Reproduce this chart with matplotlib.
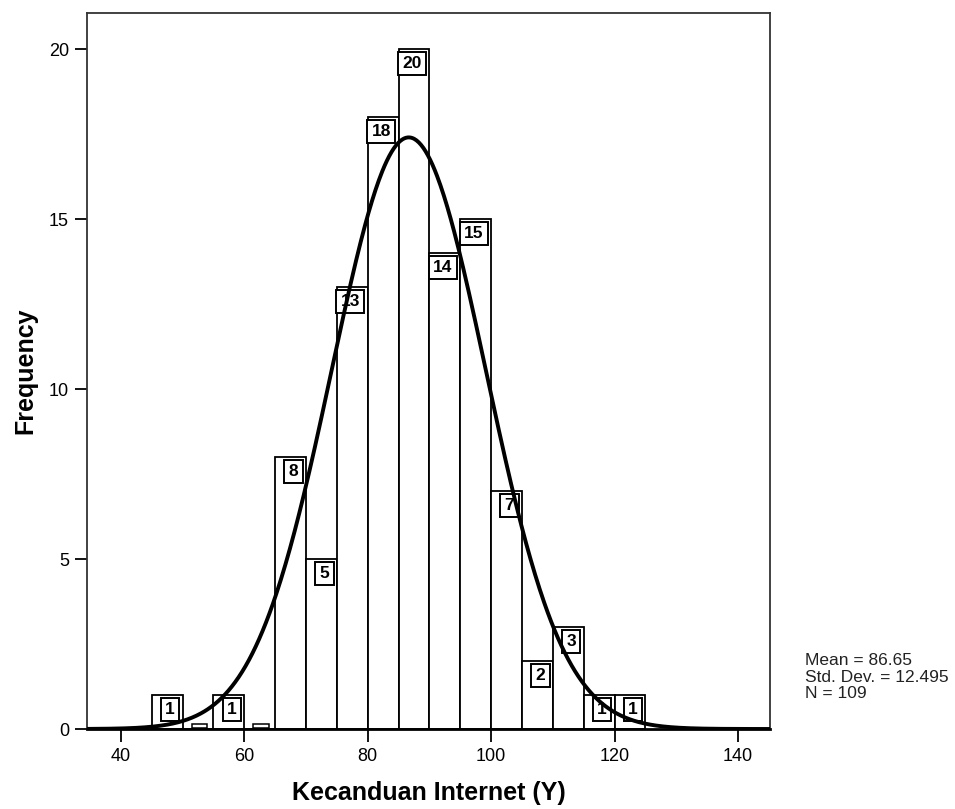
import numpy as np
import matplotlib
matplotlib.use("Agg")
import matplotlib.pyplot as plt

plt.rcParams['font.family'] = ['Liberation Sans', 'DejaVu Sans']

bin_edges = [45, 50, 55, 60, 65, 70, 75, 80, 85, 90, 95, 100, 105, 110, 115, 120, 125]
counts = [1, 0, 1, 0, 8, 5, 13, 18, 20, 14, 15, 7, 2, 3, 1, 1]
mean_val = 86.65
std_val = 12.495
n_val = 109
x_ticks = [40, 60, 80, 100, 120, 140]
y_ticks = [0, 5, 10, 15, 20]

fig = plt.figure(figsize=(9.55, 8.09), dpi=100)
ax = fig.add_axes([87/955, 1-729/809, (770-87)/955, (729-13)/809])

lefts = np.array(bin_edges[:-1])
widths = np.diff(bin_edges)
ax.bar(lefts, counts, width=widths, align='edge', facecolor='white',
       edgecolor='black', linewidth=1.3, zorder=2)

for l, w, c in zip(lefts, widths, counts):
    if c > 0:
        ax.annotate(str(c), xy=(l + w, c), xytext=(-5.5, -5.0), textcoords='offset points',
                    ha='right', va='top', fontsize=12.5, fontweight='bold', zorder=4,
                    bbox=dict(boxstyle='square,pad=0.25', facecolor='white',
                              edgecolor='black', linewidth=1.4))
    else:
        ax.annotate('\u2003' * 5, xy=(l + w/2, 0), xytext=(1.0, 0.8), textcoords='offset points',
                    ha='center', va='bottom', fontsize=2.2, zorder=4,
                    bbox=dict(boxstyle='square,pad=0.1', facecolor='white',
                              edgecolor='black', linewidth=1.1))

xs = np.linspace(34.5, 145.2, 600)
bw = widths[0]
ys = n_val * bw / (std_val * np.sqrt(2*np.pi)) * np.exp(-0.5*((xs-mean_val)/std_val)**2)
ax.plot(xs, ys, color='black', linewidth=2.8, zorder=5)

ax.set_xlim(34.5, 145.2)
ax.set_ylim(0, 21.06)
ax.set_xticks(x_ticks)
ax.set_yticks(y_ticks)
ax.tick_params(direction='out', length=9, width=1.3, pad=4, labelsize=13, colors='black')
ax.tick_params(axis='x', pad=5)
for s in ax.spines.values():
    s.set_linewidth(1.3)
    s.set_color('#333333')
ax.spines['bottom'].set_linewidth(2)
ax.spines['bottom'].set_color('black')

ax.set_xlabel('Kecanduan Internet (Y)', fontsize=18, fontweight='bold', labelpad=11)
ax.set_ylabel('Frequency', fontsize=18, fontweight='bold', labelpad=8)

fig.text(805/955, 1-677/809, f'Mean = {mean_val}\nStd. Dev. = {std_val}\nN = {n_val}',
         ha='left', va='center', fontsize=12.5, linespacing=1.1, color='#222222')

fig.savefig('out.png', dpi=100)
